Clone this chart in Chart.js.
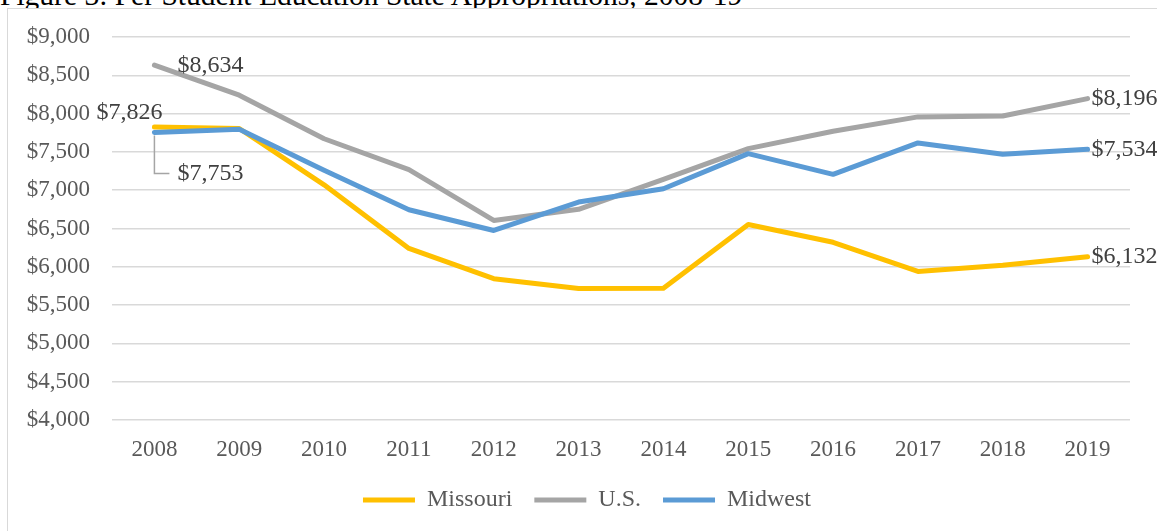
<!DOCTYPE html>
<html>
<head>
<meta charset="utf-8">
<script src="https://cdn.jsdelivr.net/npm/chart.js@4.4.0/dist/chart.umd.min.js"></script>
<style>
  body { margin: 0; background: #fff; width: 1157px; height: 531px; overflow: hidden; position: relative; }
  #title { position: absolute; left: 0; top: -19px; font: 29.5px "Liberation Serif", "Times New Roman", serif; line-height: 29.5px; color: #000; white-space: nowrap; }
  #box { position: absolute; left: 7px; top: 8px; width: 1170px; height: 540px; border: 1px solid #d9d9d9; background: #fff; }
  #chart { position: absolute; left: 0; top: 0; }
</style>
</head>
<body>
<div id="title">Figure 3: Per Student Education State Appropriations, 2008-19</div>
<div id="box"><canvas id="chart" width="1158" height="522"></canvas></div>
<script>
const years = ['2008', '2009', '2010', '2011', '2012', '2013', '2014', '2015', '2016', '2017', '2018', '2019'];
const missouri = [7826, 7805, 7070, 6240, 5845, 5718, 5720, 6552, 6320, 5940, 6020, 6132];
const unitedStates = [8634, 8240, 7672, 7268, 6605, 6750, 7140, 7543, 7770, 7957, 7968, 8196];
const midwest = [7753, 7796, 7260, 6745, 6474, 6845, 7019, 7477, 7207, 7617, 7469, 7534];

const tickFont = { family: '"Liberation Serif", "Times New Roman", serif', size: 23 };
const legendFont = { family: '"Liberation Serif", "Times New Roman", serif', size: 24 };

// which points get a value label, and where the label sits next to the point
const pointLabels = [
  { series: 1, index: 0, dx: 23, dy: 1, align: 'left' },
  { series: 0, index: 0, dx: 8, dy: -14, align: 'right' },
  { series: 2, index: 0, dx: 23, dy: 41, align: 'left', leader: true },
  { series: 1, index: 11, dx: 4, dy: 0, align: 'left' },
  { series: 2, index: 11, dx: 4, dy: 0, align: 'left' },
  { series: 0, index: 11, dx: 4, dy: 0, align: 'left' }
];

function money(v) {
  return '$' + v.toLocaleString('en-US');
}

const valueLabels = {
  id: 'valueLabels',
  afterDatasetsDraw(chart) {
    const ctx = chart.ctx;
    ctx.save();
    ctx.font = '24px "Liberation Serif", "Times New Roman", serif';
    ctx.fillStyle = '#404040';
    ctx.textBaseline = 'middle';
    pointLabels.forEach(l => {
      const pt = chart.getDatasetMeta(l.series).data[l.index];
      const value = chart.data.datasets[l.series].data[l.index];
      const x = pt.x + l.dx;
      const y = pt.y + l.dy;
      if (l.leader) {
        ctx.strokeStyle = '#a5a5a5';
        ctx.lineWidth = 1.5;
        ctx.beginPath();
        ctx.moveTo(pt.x, pt.y + 3);
        ctx.lineTo(pt.x, y);
        ctx.lineTo(x - 8, y);
        ctx.stroke();
      }
      ctx.textAlign = l.align;
      ctx.fillText(money(value), x, y);
    });
    ctx.restore();
  }
};

function lineSet(label, data, color, order) {
  return {
    label: label,
    data: data,
    borderColor: color,
    backgroundColor: color,
    borderWidth: 5,
    pointRadius: 0,
    tension: 0,
    borderCapStyle: 'round',
    borderJoinStyle: 'round',
    order: order
  };
}

new Chart(document.getElementById('chart'), {
  type: 'line',
  data: {
    labels: years,
    datasets: [
      lineSet('Missouri', missouri, '#ffc000', 3),
      lineSet('U.S.', unitedStates, '#a5a5a5', 2),
      lineSet('Midwest', midwest, '#5b9bd5', 1)
    ]
  },
  options: {
    responsive: false,
    devicePixelRatio: 1,
    animation: false,
    layout: { padding: { top: 28, right: 0, bottom: 9, left: 0 } },
    scales: {
      x: {
        offset: true,
        grid: { display: false },
        border: { display: false },
        ticks: { color: '#595959', font: tickFont, padding: 8 },
        afterFit(scale) { scale.height = 46; }
      },
      y: {
        min: 4000,
        max: 9000,
        // invisible tick marks push the labels away from the plot without adding top padding
        grid: { color: '#d9d9d9', lineWidth: 1.5, drawTicks: true, tickLength: 22, tickColor: 'rgba(0,0,0,0)' },
        border: { display: false },
        ticks: {
          stepSize: 500,
          color: '#595959',
          font: tickFont,
          padding: 0,
          callback: v => money(v)
        },
        afterFit(scale) { scale.width = 104; }
      },
      // empty right-hand strip, leaves room for the end labels
      yRight: {
        position: 'right',
        grid: { display: false },
        border: { display: false },
        ticks: { display: false },
        afterFit(scale) { scale.width = 36; }
      }
    },
    plugins: {
      tooltip: { enabled: false },
      legend: {
        position: 'bottom',
        labels: {
          color: '#595959',
          font: legendFont,
          boxWidth: 52,
          boxHeight: 5,
          padding: 22,
          useBorderRadius: true,
          borderRadius: 2.5,
          generateLabels(chart) {
            return chart.data.datasets.map((ds, i) => ({
              text: ds.label,
              fillStyle: ds.borderColor,
              strokeStyle: ds.borderColor,
              lineWidth: 0,
              fontColor: '#595959',
              hidden: false,
              datasetIndex: i
            }));
          }
        }
      }
    }
  },
  plugins: [valueLabels]
});
</script>
</body>
</html>
